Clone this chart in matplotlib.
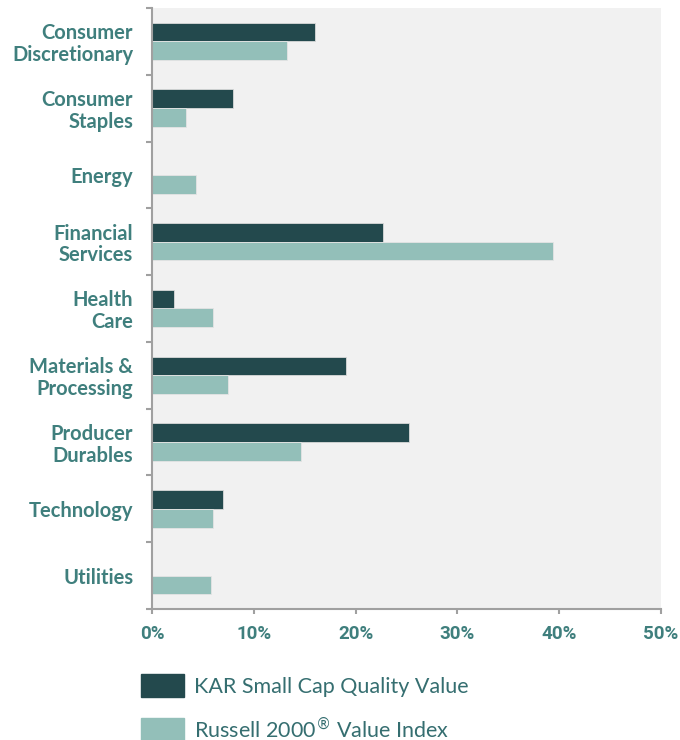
import matplotlib.pyplot as plt
import matplotlib.patches as mpatches
import numpy as np

sectors = ["Consumer\nDiscretionary", "Consumer\nStaples", "Energy",
           "Financial\nServices", "Health\nCare", "Materials &\nProcessing",
           "Producer\nDurables", "Technology", "Utilities"]
kar = [16.0, 8.0, 0.0, 22.7, 2.2, 19.1, 25.2, 7.0, 0.0]
russell = [13.3, 3.3, 4.3, 39.4, 6.0, 7.5, 14.6, 6.0, 5.8]
xticks = [0, 10, 20, 30, 40, 50]
series_names = ["KAR Small Cap Quality Value", "Russell 2000$^{\u00ae}$ Value Index"]

dark = "#23494d"
light = "#93bfb9"
label_col = "#3f7f7d"
text_col = "#356e70"

fig = plt.figure(figsize=(6.8, 7.4), dpi=100)
ax = fig.add_axes([152/680, 1 - 609/740, (661-152)/680, (609-8)/740])
ax.set_facecolor("#f1f1f1")

y = np.arange(len(sectors))
h = 0.28
ax.barh(y - h/2, kar, height=h, color=dark, edgecolor="#d9d9d9", linewidth=0.6)
ax.barh(y + h/2, russell, height=h, color=light, edgecolor="#e4e4e4", linewidth=0.6)

ax.set_xlim(0, 50)
ax.set_ylim(len(sectors) - 0.5, -0.5)

ax.set_yticks(y)
ax.set_yticklabels(sectors, fontsize=14.5, fontweight="bold", color=label_col,
                   fontfamily="Lato", linespacing=1.1)
ax.set_yticks(np.arange(-0.5, len(sectors)), minor=True)
ax.tick_params(axis="y", which="major", length=0, pad=13.5)
ax.tick_params(axis="y", which="minor", length=4.5, color="#a0a0a0", width=1.5)

ax.set_xticks(xticks)
ax.set_xticklabels([f"{t}%" for t in xticks], fontsize=13.5, fontweight="bold",
                   color=label_col, fontfamily="Roboto")
ax.tick_params(axis="x", length=3.6, color="#a0a0a0", width=1.5, pad=8)

for s in ["top", "right"]:
    ax.spines[s].set_visible(False)
for s in ["left", "bottom"]:
    ax.spines[s].set_color("#a0a0a0")
    ax.spines[s].set_linewidth(1.5)

handles = [mpatches.Patch(color=dark), mpatches.Patch(color=light)]
fig.legend(handles, series_names, loc="upper left",
           bbox_to_anchor=(141/680, 1 - 674/740), frameon=False,
           prop={"family": "Lato", "size": 15.5}, labelcolor=text_col,
           handlelength=2.0, handleheight=1.25, handletextpad=0.45,
           labelspacing=0.85, borderpad=0, borderaxespad=0)

fig.savefig("out.png", dpi=100, facecolor="white")
